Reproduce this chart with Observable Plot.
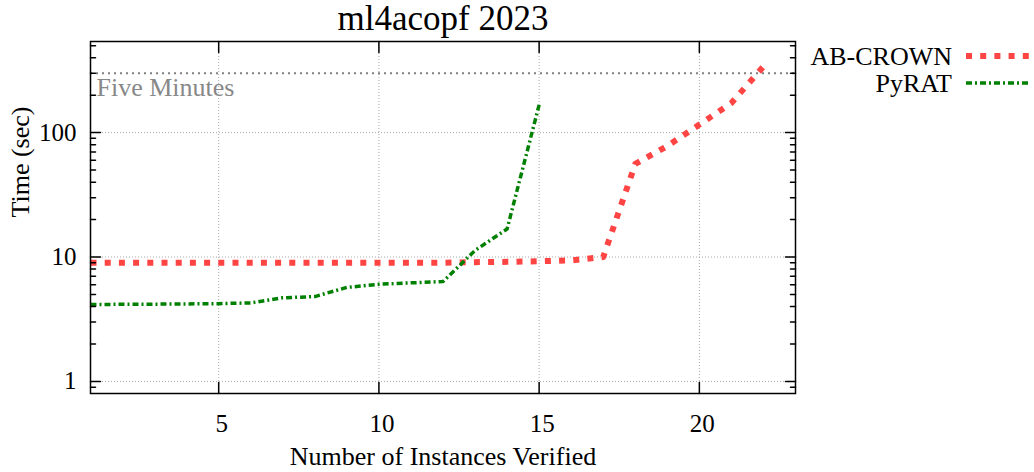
<!DOCTYPE html>
<html><head><meta charset="utf-8">
<script src="https://cdn.jsdelivr.net/npm/d3@7"></script>
<script src="https://cdn.jsdelivr.net/npm/@observablehq/plot@0.6"></script>
<style>
body{margin:0;background:#fff;}
#wrap{position:relative;width:1034px;height:472px;font-family:"Liberation Serif","Times New Roman",serif;}
#legend{position:absolute;left:0;top:0;pointer-events:none;}
</style></head><body><div id="wrap"></div>
<script>
const title = "ml4acopf 2023";
const xLabel = "Number of Instances Verified";
const yLabel = "Time (sec)";
const seriesNames = ["AB-CROWN", "PyRAT"];
const abCrownTimes = [9.0, 9.0, 9.0, 9.0, 9.0, 9.0, 9.0, 9.0, 9.0, 9.0, 9.0, 9.0, 9.1, 9.15, 9.25, 9.4, 10.0, 56, 78, 116, 173, 340];
const pyratTimes = [4.15, 4.17, 4.18, 4.2, 4.22, 4.28, 4.7, 4.81, 5.7, 6.04, 6.2, 6.35, 11.3, 16.8, 167];
const xTicks = [5, 10, 15, 20];
const yTicks = [1, 10, 100];
const yMinorTicks = [0.9, 2, 3, 4, 5, 6, 7, 8, 9, 20, 30, 40, 50, 60, 70, 80, 90, 200, 300, 400, 500];
const timeoutSeconds = 300;
const timeoutLabel = "Five Minutes";
const seriesColors = ["#ff4444", "#008000"];
const seriesDash = ["6,8.2", "6,3,2,3"];
const seriesWidth = [6, 3.5];

const seriesData = [abCrownTimes, pyratTimes];
const rows = seriesNames.map((name, s) => seriesData[s].map((t, i) => ({solver: name, n: i + 1, t})));

const spike = {draw(ctx, l) { ctx.moveTo(0, 0); ctx.lineTo(0, -l); }};
const tickStyle = {stroke: "black", strokeWidth: 1.5, anchor: "start", shape: spike};

const chart = Plot.plot({
  width: 1034, height: 472,
  marginLeft: 90, marginRight: 239, marginTop: 41, marginBottom: 79,
  x: {domain: [1, 23]},
  y: {type: "log", domain: [0.8, 540]},
  style: {fontFamily: "'Liberation Serif', 'Times New Roman', serif", fontSize: "25px", background: "white", color: "black"},
  marks: [
    Plot.gridX(xTicks, {stroke: "#aaa", strokeOpacity: 1, strokeDasharray: "1,2"}),
    Plot.gridY(yTicks, {stroke: "#aaa", strokeOpacity: 1, strokeDasharray: "1,2"}),
    Plot.ruleY([timeoutSeconds], {stroke: "#808080", strokeWidth: 2, strokeDasharray: "2,4"}),
    Plot.text([{label: timeoutLabel, value: timeoutSeconds}], {y: "value", text: "label", frameAnchor: "left", lineAnchor: "middle", textAnchor: "start", dx: 6, dy: 14.5, fill: "#888", fontSize: 26}),
    ...rows.map((r, s) => Plot.line(r, {x: "n", y: "t", stroke: seriesColors[s], strokeWidth: seriesWidth[s], strokeDasharray: seriesDash[s], strokeLinecap: "butt", strokeLinejoin: "round"})),
    Plot.frame({stroke: "black", strokeWidth: 1.5}),
    Plot.vector(xTicks, {x: d => d, frameAnchor: "bottom", rotate: 0, length: 11, ...tickStyle}),
    Plot.vector(xTicks, {x: d => d, frameAnchor: "top", rotate: 180, length: 11, ...tickStyle}),
    Plot.vector(yTicks, {y: d => d, frameAnchor: "left", rotate: 90, length: 10, ...tickStyle}),
    Plot.vector(yTicks, {y: d => d, frameAnchor: "right", rotate: -90, length: 10, ...tickStyle}),
    Plot.vector(yMinorTicks, {y: d => d, frameAnchor: "left", rotate: 90, length: 5, ...tickStyle}),
    Plot.vector(yMinorTicks, {y: d => d, frameAnchor: "right", rotate: -90, length: 5, ...tickStyle}),
    Plot.axisX(xTicks, {anchor: "bottom", tickSize: 0, tickPadding: 21, dx: 3, label: null, fontSize: 25}),
    Plot.axisY(yTicks, {anchor: "left", tickSize: 0, tickPadding: 14, label: null, fontSize: 25, tickFormat: d => String(d)}),
    Plot.text([xLabel], {frameAnchor: "bottom", lineAnchor: "middle", dy: 63, fontSize: 26}),
    Plot.text([yLabel], {frameAnchor: "left", lineAnchor: "middle", rotate: -90, dx: -70, fontSize: 26}),
    Plot.text([title], {frameAnchor: "top", lineAnchor: "middle", dy: -23, fontSize: 35})
  ]
});
const wrap = document.getElementById("wrap");
wrap.appendChild(chart);

// legend overlay
const leg = d3.select(wrap).append("svg").attr("id", "legend").attr("width", 1034).attr("height", 472);
const legendRowY = [56, 83];
seriesNames.forEach((name, s) => {
  leg.append("text").attr("x", 952).attr("y", legendRowY[s] + 9).attr("text-anchor", "end")
    .attr("font-family", "'Liberation Serif', 'Times New Roman', serif").attr("font-size", 26).text(name);
  leg.append("line").attr("x1", 966).attr("x2", 1030).attr("y1", legendRowY[s]).attr("y2", legendRowY[s])
    .attr("stroke", seriesColors[s]).attr("stroke-width", seriesWidth[s]).attr("stroke-dasharray", seriesDash[s]);
});
</script></body></html>
